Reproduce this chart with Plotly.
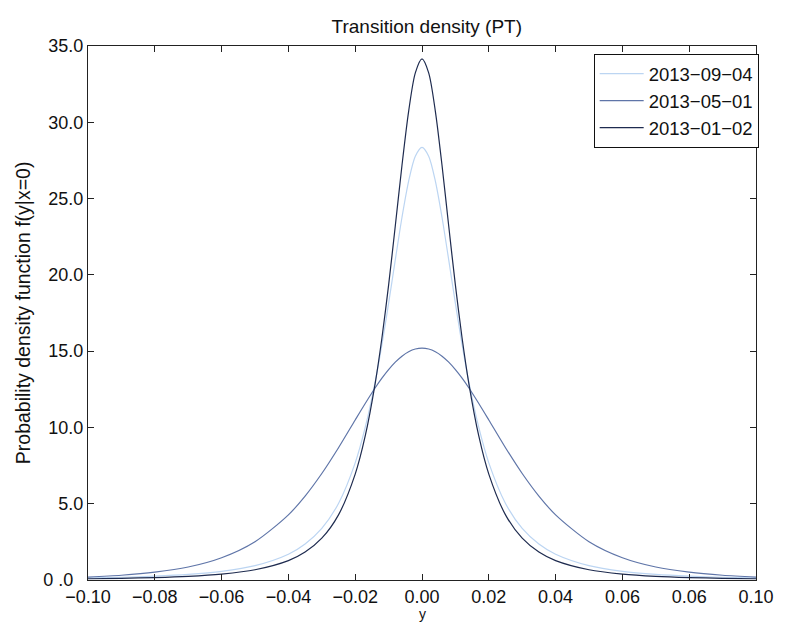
import plotly.graph_objects as go

# x positions (y variable)
y_grid = [-0.100, -0.090, -0.080, -0.070, -0.060, -0.050, -0.040, -0.035, -0.030, -0.025,
          -0.020, -0.017, -0.014, -0.012, -0.010, -0.008, -0.006, -0.004, -0.002, 0.000,
          0.002, 0.004, 0.006, 0.008, 0.010, 0.012, 0.014, 0.017, 0.020, 0.025,
          0.030, 0.035, 0.040, 0.050, 0.060, 0.070, 0.080, 0.090, 0.100]

dens_2013_09_04 = [0.133, 0.180, 0.253, 0.37, 0.57, 0.94, 1.69, 2.36, 3.38, 5.02,
                   7.68, 10.00, 13.01, 15.43, 18.13, 20.98, 23.76, 26.14, 27.77, 28.35,
                   27.77, 26.14, 23.76, 20.98, 18.13, 15.43, 13.01, 10.00, 7.68, 5.02,
                   3.38, 2.36, 1.69, 0.94, 0.57, 0.37, 0.253, 0.180, 0.133]

dens_2013_05_01 = [0.19, 0.31, 0.51, 0.85, 1.46, 2.51, 4.27, 5.50, 6.98, 8.67,
                   10.49, 11.57, 12.60, 13.23, 13.79, 14.28, 14.67, 14.96, 15.14, 15.20,
                   15.14, 14.96, 14.67, 14.28, 13.79, 13.23, 12.60, 11.57, 10.49, 8.67,
                   6.98, 5.50, 4.27, 2.51, 1.46, 0.85, 0.51, 0.31, 0.19]

dens_2013_01_02 = [0.081, 0.113, 0.162, 0.244, 0.39, 0.67, 1.27, 1.83, 2.74, 4.27,
                   6.94, 9.44, 12.91, 15.86, 19.33, 23.20, 27.17, 30.72, 33.24, 34.15,
                   33.24, 30.72, 27.17, 23.20, 19.33, 15.86, 12.91, 9.44, 6.94, 4.27,
                   2.74, 1.83, 1.27, 0.67, 0.39, 0.244, 0.162, 0.113, 0.081]

series_names = ["2013\u221209\u221204", "2013\u221205\u221201", "2013\u221201\u221202"]
series_colors = ["#bcd5f2", "#5f75a8", "#1e2b4f"]

x_tick_vals = [-0.10, -0.08, -0.06, -0.04, -0.02, 0.00, 0.02, 0.04, 0.06, 0.08, 0.10]
x_tick_text = ["\u22120.10", "\u22120.08", "\u22120.06", "\u22120.04", "\u22120.02",
               "0.00", "0.02", "0.04", "0.06", "0.06", "0.10"]
y_tick_vals = [0, 5, 10, 15, 20, 25, 30, 35]
y_tick_text = ["0 .0\u00a0\u00a0", "5.0", "10.0", "15.0", "20.0", "25.0", "30.0", "35.0"]

FONT = "Liberation Sans, Arial, Helvetica, sans-serif"

fig = go.Figure()
for name, vals, col in zip(series_names,
                           [dens_2013_09_04, dens_2013_05_01, dens_2013_01_02],
                           series_colors):
    fig.add_trace(go.Scatter(x=y_grid, y=vals, mode="lines", name=name,
                             line=dict(color=col, width=1.2, shape="spline", smoothing=0.8)))

axis_common = dict(showline=True, linecolor="#222222", linewidth=1.4, mirror="ticks",
                   ticks="inside", ticklen=6, tickcolor="#222222", tickwidth=1,
                   showgrid=False, zeroline=False,
                   tickfont=dict(family=FONT, size=18, color="#111111"))

fig.update_layout(
    width=786, height=623,
    margin=dict(l=88, r=20, t=46, b=43),
    paper_bgcolor="white", plot_bgcolor="white",
    font=dict(family=FONT, size=18, color="#111111"),
    title=dict(text="Transition density (PT)", x=0.543, xanchor="center",
               y=0.958, yanchor="middle", font=dict(family=FONT, size=19, color="#111111")),
    xaxis=dict(range=[-0.1, 0.1], tickvals=x_tick_vals, ticktext=x_tick_text, **axis_common),
    yaxis=dict(range=[0, 35], tickvals=y_tick_vals, ticktext=y_tick_text, **axis_common),
    legend=dict(x=1.004, xanchor="right", y=0.985, yanchor="top",
                bgcolor="white", bordercolor="#111111", borderwidth=1,
                font=dict(family=FONT, size=18.5, color="#111111"),
                itemwidth=44, tracegroupgap=0),
    showlegend=True,
    annotations=[
        dict(text="y", xref="paper", yref="paper", x=0.5, y=-0.0805,
             xanchor="center", yanchor="bottom", showarrow=False, borderpad=0,
             font=dict(family=FONT, size=14, color="#111111")),
        dict(text="Probability density function f(y|x=0)", xref="paper", yref="paper",
             x=-0.097, y=0.5, xanchor="center", yanchor="middle", textangle=-90,
             showarrow=False, font=dict(family=FONT, size=19.5, color="#111111")),
    ],
)

fig.write_html("out.html")
